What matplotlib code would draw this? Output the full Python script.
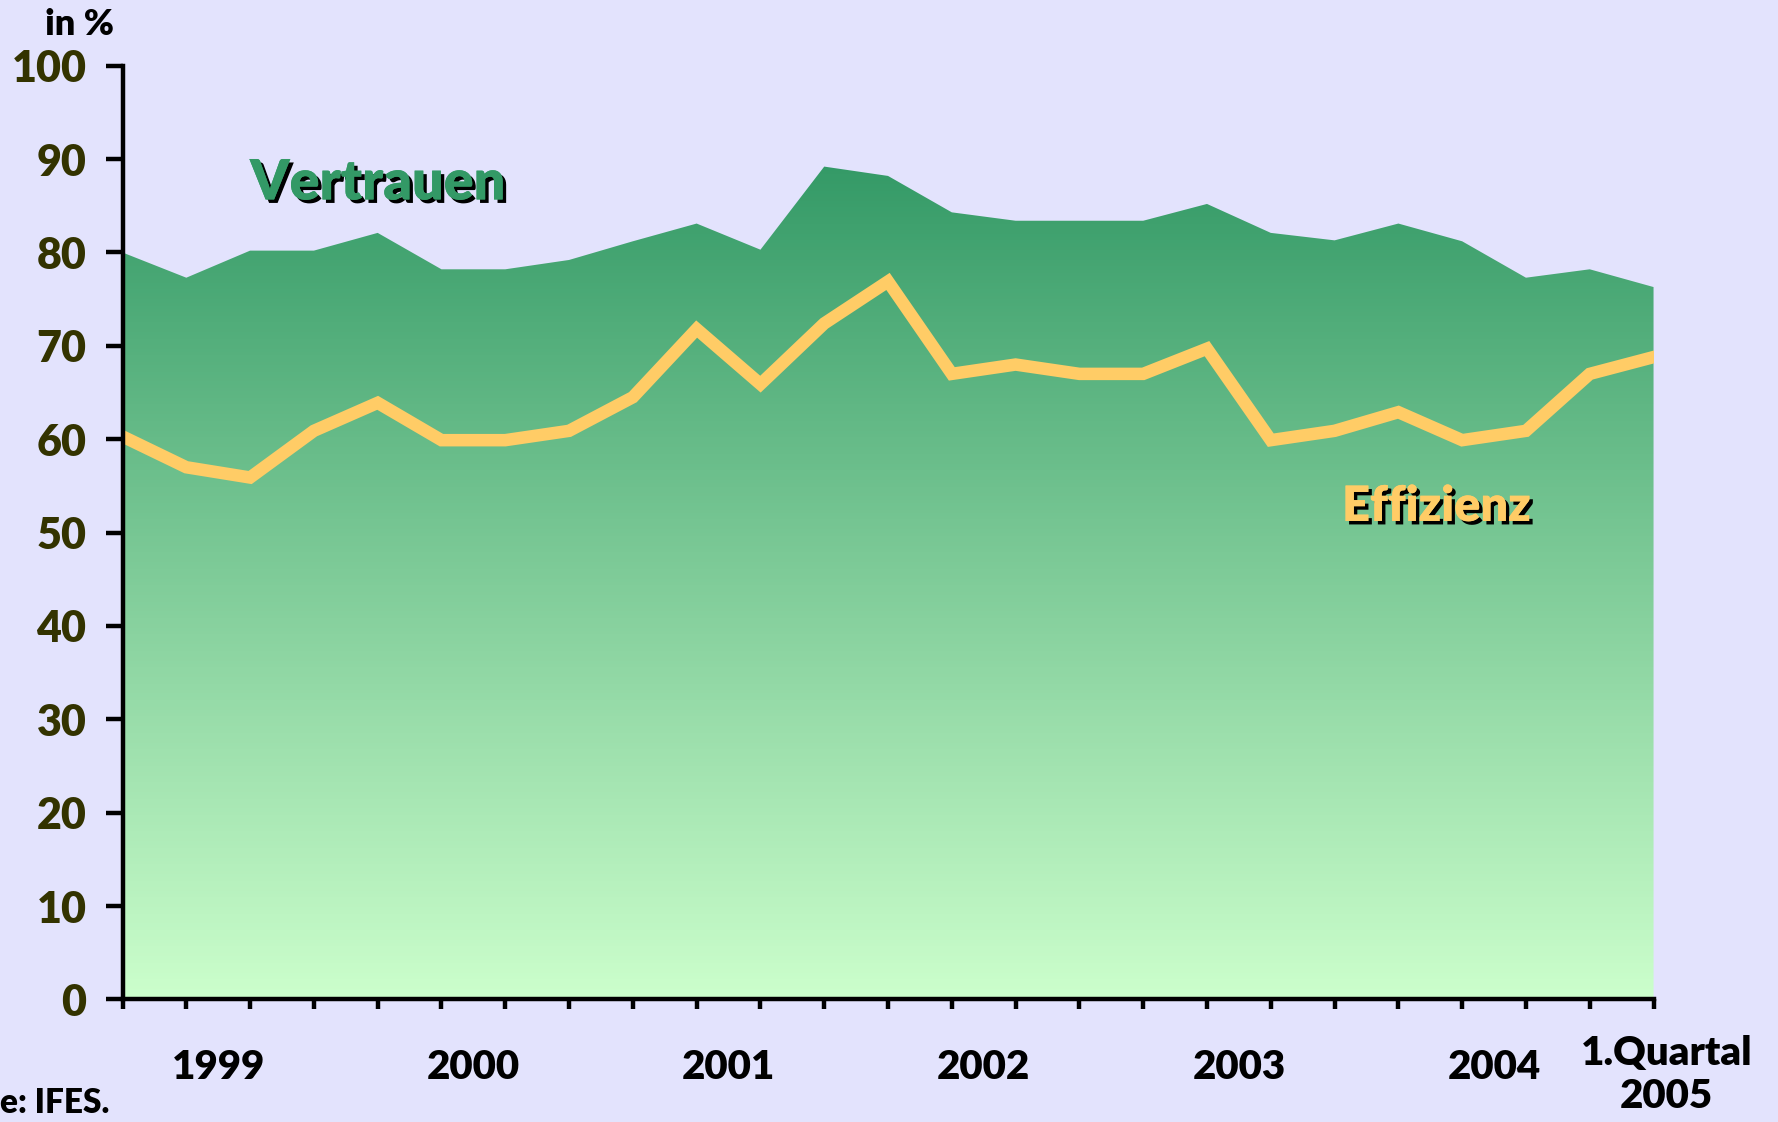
import matplotlib.pyplot as plt
import numpy as np
from matplotlib import patheffects
from matplotlib.colors import LinearSegmentedColormap

# quarterly values, 1999 Q1 .. 2005 Q1
vertrauen = [80, 77.3, 80.2, 80.2, 82.1, 78.2, 78.2, 79.2, 81.2, 83.1, 80.3, 89.2, 88.2,
             84.3, 83.4, 83.4, 83.4, 85.2, 82.1, 81.3, 83.1, 81.2, 77.3, 78.2, 76.3]
effizienz = [60.3, 57.0, 55.9, 60.9, 63.9, 59.9, 59.9, 60.9, 64.5, 71.8, 65.9, 72.4, 76.9,
             67.0, 68.0, 67.0, 67.0, 69.7, 59.9, 60.9, 62.9, 59.9, 60.9, 67.0, 68.8]
year_labels = ["1999", "2000", "2001", "2002", "2003", "2004", "1.Quartal\n2005"]
year_pos = [1.5, 5.5, 9.5, 13.5, 17.5, 21.5, 24.2]
y_ticks = list(range(0, 101, 10))

BG = "#e3e3fd"
FONT = "Lato"
W = "heavy"

x = np.arange(len(vertrauen))

fig = plt.figure(figsize=(17.78, 11.22), dpi=100, facecolor=BG)
ax = fig.add_axes([0.0689, 0.1092, 0.930 - 0.0689, 0.9414 - 0.1092])
ax.set_facecolor(BG)
ax.set_xlim(0, 24)
ax.set_ylim(0, 100)

# gradient area under Vertrauen
cmap = LinearSegmentedColormap.from_list("grn", ["#ccffcc", "#339966"])
grad = np.linspace(0, 1, 256).reshape(-1, 1)
poly = ax.fill_between(x, 0, vertrauen, color="none", lw=0)
img = ax.imshow(grad, extent=[0, 24, 0, 90], origin="lower", aspect="auto",
                cmap=cmap, vmin=0, vmax=1, zorder=1)
img.set_clip_path(poly.get_paths()[0], transform=ax.transData)
ax.set_ylim(0, 100)

ax.plot(x, effizienz, color="#ffcc66", lw=9, solid_joinstyle="miter", zorder=3)

for s in ["top", "right"]:
    ax.spines[s].set_visible(False)
for s in ["left", "bottom"]:
    ax.spines[s].set_linewidth(3.2)
    ax.spines[s].set_zorder(4)

ax.set_yticks(y_ticks)
ax.set_yticklabels([str(v) for v in y_ticks], fontfamily=FONT, fontweight=W,
                   fontsize=31, color="#333300")
ax.tick_params(axis="y", direction="out", length=12, width=3.2, pad=14)
ax.set_xticks(x)
ax.set_xticklabels([])
ax.tick_params(axis="x", direction="out", length=7, width=3.2)

for lbl, p in zip(year_labels, year_pos):
    yy = -8.1 if "\n" in lbl else -7.3
    ax.text(p, yy, lbl, ha="center", va="center", fontfamily=FONT, fontweight=W,
            fontsize=29, color="black", linespacing=1.2, clip_on=False)

shadow = [patheffects.withSimplePatchShadow(offset=(2.5, -2.5), shadow_rgbFace="black", alpha=1),
          patheffects.Normal()]
ax.text(4.0, 87.5, "Vertrauen", ha="center", va="center", fontfamily=FONT,
        fontweight=W, fontsize=40, color="#339966", path_effects=shadow)
ax.text(20.6, 52.8, "Effizienz", ha="center", va="center", fontfamily=FONT,
        fontweight=W, fontsize=35, color="#ffcc66", path_effects=shadow)

fig.text(0.064, 0.978, "in %", ha="right", va="center", fontfamily=FONT,
         fontweight=W, fontsize=26, color="black")
fig.text(0.0, 0.017, "e: IFES.", ha="left", va="center", fontfamily=FONT,
         fontweight=W, fontsize=24, color="black")

fig.savefig("out.png", dpi=100, facecolor=BG)
